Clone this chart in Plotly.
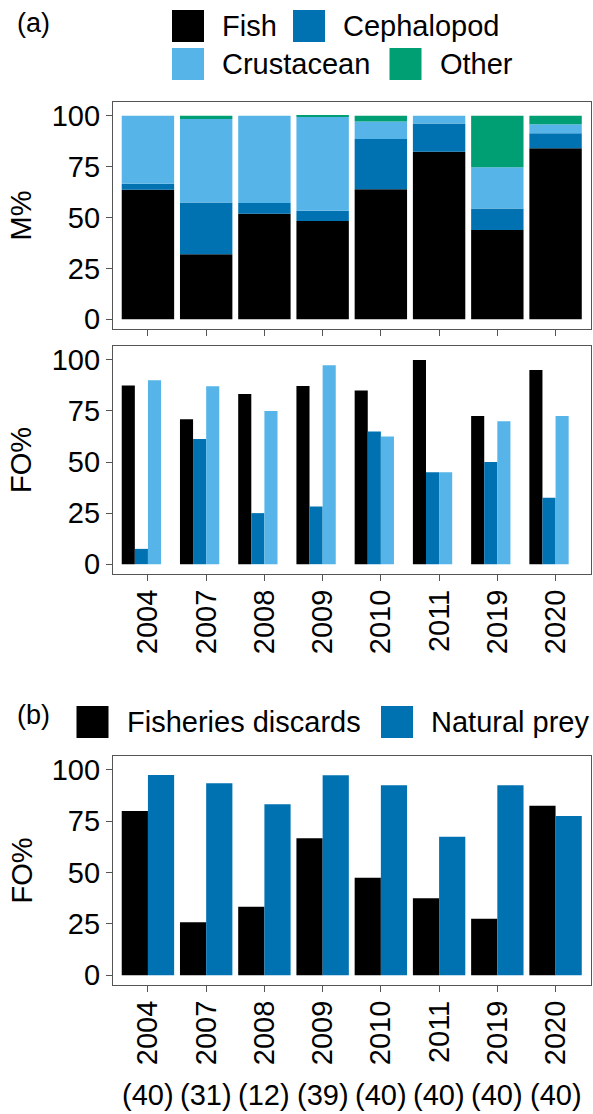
import numpy as np
import plotly.graph_objects as go

W, H = 593, 1114

years = ["2004", "2007", "2008", "2009", "2010", "2011", "2019", "2020"]
n_samples = [40, 31, 12, 39, 40, 40, 40, 40]

# Panel (a) top: M% (stacked)
m_fish = [63.6, 32.0, 51.8, 48.3, 63.9, 82.4, 43.9, 84.1]
m_ceph = [3.0, 25.4, 5.3, 5.0, 24.7, 13.8, 10.5, 7.3]
m_crust = [33.4, 41.0, 42.9, 46.2, 8.6, 3.8, 20.3, 4.5]
m_other = [0.0, 1.6, 0.0, 0.5, 2.8, 0.0, 25.3, 4.1]

# Panel (a) bottom: FO% by prey group
fo_fish = [87.5, 71.0, 83.3, 87.2, 85.0, 100.0, 72.5, 95.0]
fo_ceph = [7.5, 61.3, 25.0, 28.2, 65.0, 45.0, 50.0, 32.5]
fo_crust = [90.0, 87.1, 75.0, 97.4, 62.5, 45.0, 70.0, 72.5]

# Panel (b): FO% discards vs natural prey
fo_discards = [80.0, 25.8, 33.3, 66.7, 47.5, 37.5, 27.5, 82.5]
fo_natural = [97.5, 93.5, 83.3, 97.4, 92.5, 67.5, 92.5, 77.5]

groups_a = ["Fish", "Cephalopod", "Crustacean", "Other"]
groups_b = ["Fisheries discards", "Natural prey"]
colors = {"Fish": "#000000", "Cephalopod": "#0072B2", "Crustacean": "#56B4E9",
          "Other": "#009E73", "Fisheries discards": "#000000", "Natural prey": "#0072B2"}

FONT = "Liberation Sans, Arial, sans-serif"
FS = 29


def fx(px):
    return px / W


def fy(px):
    return 1 - px / H


fig = go.Figure()

# stacked M%
m_series = [m_fish, m_ceph, m_crust, m_other]
bases = np.vstack([np.zeros(len(years)), np.cumsum(np.array(m_series), axis=0)[:-1]])
for g, vals, base in zip(groups_a, m_series, bases):
    fig.add_trace(go.Bar(x=years, y=vals, base=base, name=g, marker_color=colors[g],
                         marker_line_width=0, width=0.9, offset=-0.45,
                         xaxis="x", yaxis="y", showlegend=False))

# dodged FO% (4 slots, "Other" empty)
slot = 0.9 / 4
for k, (g, vals) in enumerate(zip(groups_a[:3], [fo_fish, fo_ceph, fo_crust])):
    fig.add_trace(go.Bar(x=years, y=vals, name=g, marker_color=colors[g],
                         marker_line_width=0, width=slot, offset=-0.45 + k * slot,
                         xaxis="x2", yaxis="y2", showlegend=False))

# panel b
slot_b = 0.9 / 2
for k, (g, vals) in enumerate(zip(groups_b, [fo_discards, fo_natural])):
    fig.add_trace(go.Bar(x=years, y=vals, name=g, marker_color=colors[g],
                         marker_line_width=0, width=slot_b, offset=-0.45 + k * slot_b,
                         xaxis="x3", yaxis="y3", showlegend=False))

xdom = [fx(113), fx(590.5)]
panels = [(102, 329), (346, 574), (756, 985)]
yr = [-4.8, 106.8]
common_x = dict(type="category", range=[-0.6, 7.6], showgrid=False, zeroline=False,
                showline=True, mirror=True, linecolor="#555555", linewidth=1.3,
                ticks="outside", ticklen=6, tickwidth=1.3, tickcolor="#555555",
                tickfont=dict(family=FONT, size=FS, color="#000000"),
                tickangle=-90, ticklabelstandoff=-3, automargin=False, domain=xdom)
common_y = dict(range=yr, showgrid=False, zeroline=False, showline=True, mirror=True,
                linecolor="#555555", linewidth=1.3, ticks="outside", ticklen=6,
                tickwidth=1.3, tickcolor="#555555", tickvals=[0, 25, 50, 75, 100],
                tickfont=dict(family=FONT, size=FS, color="#000000"), automargin=False)

fig.update_layout(
    width=W, height=H, margin=dict(l=0, r=0, t=0, b=0),
    paper_bgcolor="white", plot_bgcolor="white", barmode="overlay",
    font=dict(family=FONT, size=FS, color="#000000"),
    xaxis=dict(common_x, showticklabels=False, anchor="y"),
    yaxis=dict(common_y, domain=[fy(panels[0][1]), fy(panels[0][0])], anchor="x"),
    xaxis2=dict(common_x, anchor="y2"),
    yaxis2=dict(common_y, domain=[fy(panels[1][1]), fy(panels[1][0])], anchor="x2"),
    xaxis3=dict(common_x, anchor="y3"),
    yaxis3=dict(common_y, domain=[fy(panels[2][1]), fy(panels[2][0])], anchor="x3"),
)

annotations = []
shapes = []

# y-axis titles
for title, (top, bot) in zip(["M%", "FO%", "FO%"], panels):
    annotations.append(dict(text=title, xref="paper", yref="paper", x=fx(21),
                            y=fy((top + bot) / 2), textangle=-90, showarrow=False,
                            xanchor="center", yanchor="middle",
                            font=dict(family=FONT, size=FS, color="#000000")))

# panel labels
for lab, ypx in [("(a)", 23), ("(b)", 715)]:
    annotations.append(dict(text=lab, xref="paper", yref="paper", x=fx(15), y=fy(ypx),
                            showarrow=False, xanchor="left", yanchor="middle",
                            font=dict(family=FONT, size=27, color="#000000")))

# sample sizes
for i, n in enumerate(n_samples):
    annotations.append(dict(text=f"({n})", xref="x3", yref="paper", x=i, y=fy(1113),
                            showarrow=False, xanchor="center", yanchor="bottom",
                            font=dict(family=FONT, size=FS, color="#000000")))

# manual legends
legend_items = [
    ("Fish", 172, 26), ("Cephalopod", 293, 26),
    ("Crustacean", 172, 64), ("Other", 389.5, 64),
    ("Fisheries discards", 76.5, 722), ("Natural prey", 381, 722),
]
for name, kx, cy in legend_items:
    shapes.append(dict(type="rect", xref="paper", yref="paper", x0=fx(kx), x1=fx(kx + 32),
                       y0=fy(cy + 16), y1=fy(cy - 16), fillcolor=colors[name],
                       line=dict(width=0)))
    annotations.append(dict(text=name, xref="paper", yref="paper", x=fx(kx + 48), y=fy(cy),
                            showarrow=False, xanchor="left", yanchor="middle",
                            font=dict(family=FONT, size=FS, color="#000000")))

fig.update_layout(annotations=annotations, shapes=shapes)
fig.write_html(
    "out.html",
    config={"displayModeBar": False},
    post_script="document.body.style.margin='0';document.body.style.overflow='hidden';",
)
